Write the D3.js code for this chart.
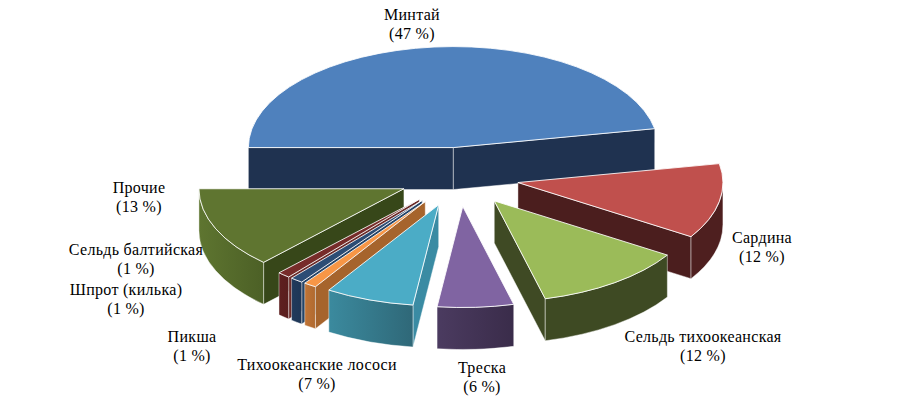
<!DOCTYPE html>
<html><head><meta charset="utf-8">
<script src="https://cdn.jsdelivr.net/npm/d3@7"></script>
<style>body{margin:0;background:#fff}svg{display:block}
.lbl{font-family:"Liberation Serif","Times New Roman","DejaVu Serif",serif;font-size:16px;fill:#000;letter-spacing:0.3px}</style>
</head><body>
<svg id="c" width="900" height="411"></svg>
<script>
// ---- data ----
const categories = ["Минтай","Сардина","Сельдь тихоокеанская","Треска","Тихоокеанские лососи","Пикша","Шпрот (килька)","Сельдь балтийская","Прочие"];
const values = [47,12,12,6,7,1,1,1,13];
const percentLabels = values.map(v => "(" + v + " %)");

// ---- style (palette) ----
const topColors   = ["#4F81BD","#C0504D","#9BBB59","#8064A2","#4BACC6","#F79646","#2C4D75","#772C2A","#5F7530"];
const radialColors= ["#1F3250","#4B1E1E","#3F4A24","#3E304F","#3A8BA3","#A6642C","#244468","#6B2A28","#374719"];
const outerLeft   = ["#1F3250","#4E1F1F","#3E4A23","#4B3B60","#3B8A9E","#C07436","#203A5C","#5E2020","#5E7530"];
const outerRight  = ["#1F3250","#4E1F1F","#3E4A23","#3A2C4A","#2F6878","#B06A30","#1E3656","#5A1E1E","#4C6026"];
// label layout: [centerX, baseline of first line]
const labelPos = [[412,20],[762,243],[703,342],[482,373],[317,370],[192,342],[126,295],[136,255],[139,193]];

// ---- geometry ----
const cx = 459, cy = 177, rx = 205, ry = 101, depth = 42, explode = 60;
const k = ry / rx;
const svg = d3.select("#c");
const defs = svg.append("defs");

const total = d3.sum(values);
const angle = d3.scaleLinear().domain([0, total]).range([270, 630]); // degrees, clockwise from top
let acc = 0;
const slices = values.map((v, i) => {
  const a = angle(acc); acc += v; const b = angle(acc);
  const m = (a + b) / 2;
  const r = m * Math.PI / 180;
  return {i, a, b, m, ox: cx + explode * Math.sin(r), oy: cy - explode * Math.cos(r) * k, z: Math.cos(r)};
});

const rad = d => d * Math.PI / 180;
function P(s, t, dy) { return [s.ox + rx * Math.sin(rad(t)), s.oy - ry * Math.cos(rad(t)) + (dy||0)]; }

function topPath(s) {
  const p1 = P(s, s.a), p2 = P(s, s.b);
  const large = (s.b - s.a) > 180 ? 1 : 0;
  return `M${s.ox},${s.oy}L${p1[0]},${p1[1]}A${rx},${ry} 0 ${large} 1 ${p2[0]},${p2[1]}Z`;
}
function radialPath(s, t) {
  const p = P(s, t);
  return `M${s.ox},${s.oy}L${p[0]},${p[1]}L${p[0]},${p[1]+depth}L${s.ox},${s.oy+depth}Z`;
}
function outerRange(s) {
  const ranges = [];
  for (const off of [0, 360, -360]) {
    const lo = Math.max(s.a, 90 + off), hi = Math.min(s.b, 270 + off);
    if (hi - lo > 0.01) ranges.push([lo, hi]);
  }
  return ranges;
}
function outerPath(s, t1, t2) {
  const p1 = P(s, t1), p2 = P(s, t2);
  return `M${p1[0]},${p1[1]}A${rx},${ry} 0 0 1 ${p2[0]},${p2[1]}L${p2[0]},${p2[1]+depth}A${rx},${ry} 0 0 0 ${p1[0]},${p1[1]+depth}Z`;
}

const order = slices.slice().sort((p, q) => q.z - p.z);
const g = svg.append("g");
order.forEach(s => {
  const i = s.i;
  const sg = g.append("g");
  if (Math.sin(rad(s.a)) < 0) sg.append("path").attr("d", radialPath(s, s.a)).attr("fill", radialColors[i])
    .attr("stroke", "rgba(255,255,255,0.55)").attr("stroke-width", 0.8).attr("stroke-linejoin","round");
  if (Math.sin(rad(s.b)) > 0) sg.append("path").attr("d", radialPath(s, s.b)).attr("fill", radialColors[i])
    .attr("stroke", "rgba(255,255,255,0.55)").attr("stroke-width", 0.8).attr("stroke-linejoin","round");
  outerRange(s).forEach(([t1, t2], j) => {
    const p1 = P(s, t1), p2 = P(s, t2);
    const x1 = Math.min(p1[0], p2[0]), x2 = Math.max(p1[0], p2[0]);
    const id = "gr" + i + "_" + j;
    const gr = defs.append("linearGradient").attr("id", id).attr("gradientUnits", "userSpaceOnUse")
      .attr("x1", x1).attr("x2", x2).attr("y1", 0).attr("y2", 0);
    gr.append("stop").attr("offset", 0).attr("stop-color", outerLeft[i]);
    gr.append("stop").attr("offset", 1).attr("stop-color", outerRight[i]);
    sg.append("path").attr("d", outerPath(s, t1, t2)).attr("fill", `url(#${id})`)
      .attr("stroke", "rgba(255,255,255,0.55)").attr("stroke-width", 0.8).attr("stroke-linejoin","round");
  });
  sg.append("path").attr("d", topPath(s)).attr("fill", topColors[i])
    .attr("stroke", "rgba(255,255,255,0.85)").attr("stroke-width", 1).attr("stroke-linejoin","round");
});

// labels
const lg = svg.append("g").attr("text-anchor", "middle");
categories.forEach((c, i) => {
  const [x, y] = labelPos[i];
  const t = lg.append("text").attr("class", "lbl").attr("x", x).attr("y", y);
  t.append("tspan").attr("x", x).attr("y", y).text(c);
  t.append("tspan").attr("x", x).attr("y", y + 19).text(percentLabels[i]);
});
</script>
</body></html>
